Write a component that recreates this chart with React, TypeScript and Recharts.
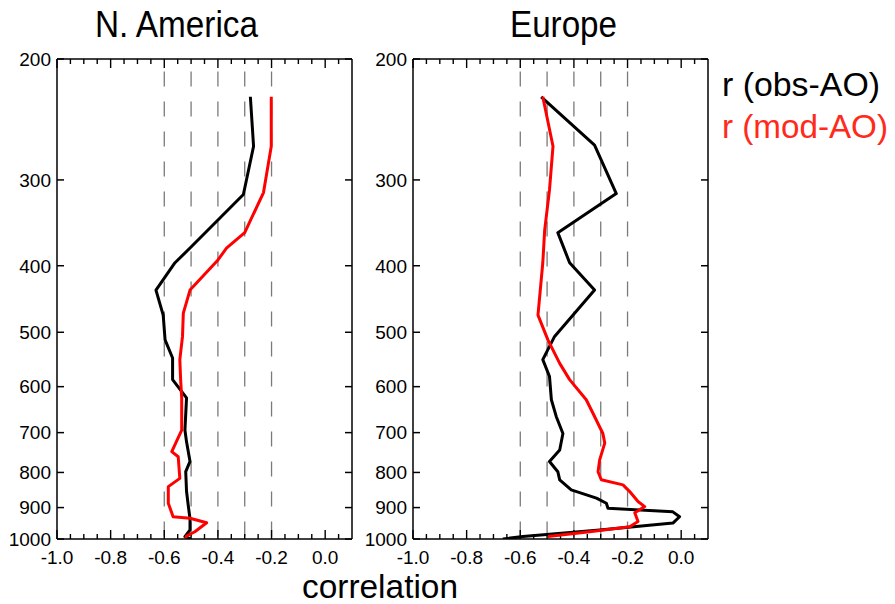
import { LineChart, Line, XAxis, YAxis, ReferenceLine } from "recharts";

// pressure levels (hPa) and correlations, read top to bottom
const naObsP = [227, 268, 315, 377, 396, 434, 472, 513, 545, 586, 623, 694, 722, 771, 798, 852, 891, 935, 970, 992, 1000];
const naObsR = [-0.279, -0.267, -0.305, -0.504, -0.56, -0.631, -0.604, -0.597, -0.569, -0.569, -0.517, -0.523, -0.517, -0.504, -0.52, -0.517, -0.511, -0.504, -0.504, -0.523, -0.502];

const naModP = [227, 268, 313, 358, 377, 392, 434, 469, 507, 548, 586, 623, 694, 746, 759, 816, 839, 887, 928, 933, 947, 976, 990, 998];
const naModR = [-0.201, -0.201, -0.23, -0.3, -0.368, -0.399, -0.504, -0.529, -0.532, -0.542, -0.539, -0.535, -0.535, -0.572, -0.548, -0.542, -0.585, -0.585, -0.567, -0.504, -0.442, -0.486, -0.517, -0.52];

const euObsP = [227, 267, 314, 358, 396, 434, 507, 548, 580, 627, 663, 702, 742, 771, 798, 820, 848, 872, 887, 902, 913, 928, 948, 970, 992, 1000];
const euObsR = [-0.522, -0.323, -0.242, -0.46, -0.416, -0.323, -0.472, -0.516, -0.491, -0.484, -0.466, -0.441, -0.453, -0.491, -0.46, -0.453, -0.41, -0.316, -0.279, -0.273, -0.031, -0.006, -0.031, -0.304, -0.59, -0.665];

const euModP = [227, 268, 310, 355, 396, 472, 513, 555, 586, 627, 656, 702, 725, 767, 798, 820, 834, 853, 882, 897, 916, 943, 960, 976, 992];
const euModR = [-0.516, -0.478, -0.491, -0.509, -0.516, -0.534, -0.497, -0.453, -0.416, -0.354, -0.329, -0.292, -0.285, -0.304, -0.31, -0.298, -0.217, -0.192, -0.161, -0.136, -0.173, -0.161, -0.192, -0.341, -0.497];

const pTicks = [200, 300, 400, 500, 600, 700, 800, 900, 1000];
const rTicks = [-1.0, -0.8, -0.6, -0.4, -0.2, 0.0];
const rMinor = [-0.95, -0.9, -0.85, -0.75, -0.7, -0.65, -0.55, -0.5, -0.45, -0.35, -0.3, -0.25, -0.15, -0.1, -0.05, 0.05];
const dashX = [-0.6, -0.5, -0.4, -0.3, -0.2];

const FONT = '"Liberation Sans", Arial, Helvetica, sans-serif';
const PLOT_H = 480; // plot height in px, used to turn tick length into pressure

const toPoints = (p: number[], r: number[]) => p.map((v, i) => ({ p: v, r: r[i] }));
// pressure that sits `px` pixels inside the top / bottom edge on the log axis
const inTop = (px: number) => 200 * Math.pow(5, px / PLOT_H);
const inBottom = (px: number) => 1000 / Math.pow(5, px / PLOT_H);

function XLabel(props: any) {
  const x = Number(props.x);
  const y = Number(props.y);
  return (
    <text x={x} y={y + 25} textAnchor="middle" fontSize={19} fill="#000" fontFamily={FONT}>
      {Number(props.payload.value).toFixed(1)}
    </text>
  );
}

function YTick(props: any) {
  const { payload, side } = props;
  const x = Number(props.x);
  const y = Number(props.y);
  const dir = side === "left" ? 1 : -1;
  return (
    <g>
      <path d={`M${x},${y}L${x + dir * 7},${y}`} stroke="#000" strokeWidth={1.5} fill="none" />
      {side === "left" && (
        <text x={x - 6} y={y + 6.8} textAnchor="end" fontSize={19} fill="#000" fontFamily={FONT}>
          {payload.value}
        </text>
      )}
    </g>
  );
}

const yProps = {
  type: "number" as const,
  scale: "log" as const,
  domain: [200, 1000],
  ticks: pTicks,
  reversed: true,
  allowDataOverflow: true,
  width: 1,
  interval: 0 as const,
  tickLine: false,
  tickSize: 0,
  tickMargin: 0,
};

const xProps = {
  type: "number" as const,
  domain: [-1.0, 0.1],
  allowDataOverflow: true,
  height: 1,
  interval: 0 as const,
  tickLine: false,
  tickSize: 0,
  tickMargin: 0,
};

function Panel({ obs, mod, left }: { obs: { p: number; r: number }[]; mod: { p: number; r: number }[]; left: number }) {
  const ax = { stroke: "#000", strokeWidth: 1.5 };
  const tickMark = (v: number, len: number, key: string) => [
    <ReferenceLine key={key + "b"} xAxisId="b" yAxisId="p" segment={[{ x: v, y: 1000 }, { x: v, y: inBottom(len) }]}
      stroke="#000" strokeWidth={1.4} />,
    <ReferenceLine key={key + "t"} xAxisId="b" yAxisId="p" segment={[{ x: v, y: 200 }, { x: v, y: inTop(len) }]}
      stroke="#000" strokeWidth={1.4} />,
  ];
  return (
    <div style={{ position: "absolute", left, top: 0 }}>
      <LineChart width={360} height={604} margin={{ top: 58, right: 7, bottom: 64, left: 56 }} style={{ fontFamily: FONT }}>
        <XAxis xAxisId="b" dataKey="r" orientation="bottom" {...xProps} ticks={rTicks} axisLine={ax}
          tick={(props: any) => <XLabel {...props} />} />
        <XAxis xAxisId="t" orientation="top" {...xProps} ticks={rTicks} axisLine={ax} tick={false} />
        <YAxis yAxisId="p" orientation="left" {...yProps} axisLine={ax}
          tick={(props: any) => <YTick {...props} side="left" />} />
        <YAxis yAxisId="pr" orientation="right" {...yProps} axisLine={ax}
          tick={(props: any) => <YTick {...props} side="right" />} />
        {dashX.map((v) => (
          <ReferenceLine key={v} xAxisId="b" yAxisId="p" segment={[{ x: v, y: 200 }, { x: v, y: 1000 }]}
            stroke="#7a7a7a" strokeWidth={1.3} strokeDasharray="15 15" strokeDashoffset={17.6} />
        ))}
        {rTicks.flatMap((v) => tickMark(v, 9, "M" + v))}
        {rMinor.flatMap((v) => tickMark(v, 5, "m" + v))}
        <Line xAxisId="b" yAxisId="p" data={obs} dataKey="p" type="linear" stroke="#000" strokeWidth={3}
          dot={false} isAnimationActive={false} strokeLinejoin="round" />
        <Line xAxisId="b" yAxisId="p" data={mod} dataKey="p" type="linear" stroke="#ff0000" strokeWidth={3}
          dot={false} isAnimationActive={false} strokeLinejoin="round" />
      </LineChart>
    </div>
  );
}

export default function App() {
  return (
    <div style={{ position: "absolute", left: 0, top: 0, width: 895, height: 604, background: "#fff", overflow: "hidden" }}>
      <svg width={895} height={604} style={{ position: "absolute", left: 0, top: 0, fontFamily: FONT }}>
        <text x={95} y={37} fontSize={36} textLength={163} lengthAdjust="spacingAndGlyphs" fill="#000">N. America</text>
        <text x={510} y={37} fontSize={36} textLength={107} lengthAdjust="spacingAndGlyphs" fill="#000">Europe</text>
        <text x={302} y={598} fontSize={33} textLength={156} lengthAdjust="spacingAndGlyphs" fill="#000">correlation</text>
        <text x={722} y={96} fontSize={34} textLength={158} lengthAdjust="spacingAndGlyphs" fill="#000">r (obs-AO)</text>
        <text x={722} y={138} fontSize={34} textLength={166} lengthAdjust="spacingAndGlyphs" fill="#ff2a1a">r (mod-AO)</text>
      </svg>
      <Panel obs={toPoints(naObsP, naObsR)} mod={toPoints(naModP, naModR)} left={0} />
      <Panel obs={toPoints(euObsP, euObsR)} mod={toPoints(euModP, euModR)} left={356} />
    </div>
  );
}
